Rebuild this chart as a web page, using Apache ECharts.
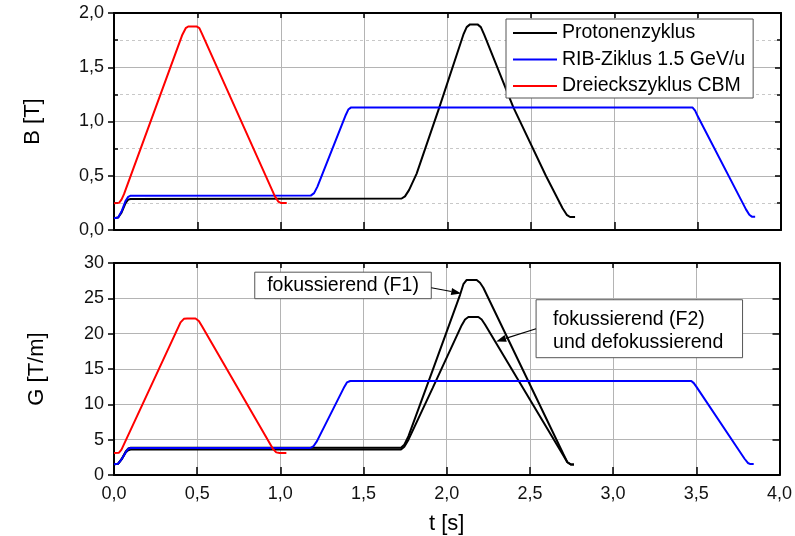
<!DOCTYPE html>
<html><head><meta charset="utf-8">
<script src="https://cdn.jsdelivr.net/npm/echarts@6/dist/echarts.min.js"></script>
<style>html,body{margin:0;padding:0;background:#fff}#c{width:795px;height:536px}</style>
</head><body><div id="c"></div>
<script>
// ---- data: [t (s), value] ----
const seriesNames = ['Protonenzyklus', 'RIB-Ziklus 1.5 GeV/u', 'Dreieckszyklus CBM'];

const B_proton = [[0,0.108],[0.025,0.115],[0.045,0.16],[0.07,0.25],[0.085,0.28],[0.1,0.286],[1.725,0.29],[1.745,0.31],[1.77,0.37],[1.815,0.52],[1.951,1.13],[2.095,1.80],[2.115,1.87],[2.135,1.895],[2.18,1.895],[2.2,1.87],[2.22,1.80],[2.395,1.13],[2.59,0.5],[2.69,0.2],[2.715,0.14],[2.735,0.12],[2.765,0.12]];
const B_rib = [[0,0.108],[0.025,0.115],[0.045,0.17],[0.07,0.27],[0.085,0.305],[0.1,0.316],[1.18,0.317],[1.2,0.34],[1.22,0.40],[1.39,1.06],[1.405,1.11],[1.42,1.128],[3.47,1.128],[3.485,1.10],[3.50,1.05],[3.79,0.19],[3.81,0.14],[3.825,0.123],[3.845,0.123]];
const B_cbm = [[0,0.246],[0.03,0.25],[0.045,0.28],[0.06,0.33],[0.41,1.80],[0.43,1.86],[0.445,1.876],[0.495,1.876],[0.512,1.86],[0.53,1.80],[0.965,0.31],[0.985,0.262],[1.0,0.25],[1.036,0.25]];

const G_f1 = [[0,1.52],[0.025,1.6],[0.045,2.2],[0.07,3.3],[0.085,3.75],[0.1,3.85],[1.725,3.85],[1.745,4.3],[1.77,5.5],[1.915,14.8],[2.08,25.5],[2.10,27.0],[2.12,27.6],[2.18,27.6],[2.2,27.2],[2.22,26.5],[2.70,3.0],[2.725,1.8],[2.745,1.5],[2.765,1.5]];
const G_f2 = [[0,1.52],[0.025,1.6],[0.045,2.2],[0.07,3.2],[0.085,3.5],[0.1,3.6],[1.725,3.6],[1.745,4.0],[1.77,5.0],[1.915,12.3],[2.09,21.2],[2.11,22.0],[2.13,22.35],[2.19,22.35],[2.21,22.0],[2.23,21.3],[2.70,2.8],[2.725,1.8],[2.745,1.5],[2.765,1.5]];
const G_rib = [[0,1.52],[0.025,1.6],[0.045,2.2],[0.07,3.2],[0.085,3.7],[0.1,3.82],[1.18,3.82],[1.2,4.1],[1.22,4.8],[1.385,12.5],[1.40,13.1],[1.42,13.3],[3.47,13.3],[3.485,13.0],[3.50,12.5],[3.79,2.3],[3.81,1.7],[3.825,1.55],[3.845,1.55]];
const G_cbm = [[0,3.13],[0.03,3.15],[0.045,3.6],[0.40,21.6],[0.42,22.1],[0.44,22.15],[0.49,22.15],[0.51,21.8],[0.53,21.0],[0.955,3.7],[0.975,3.2],[0.995,3.1],[1.036,3.1]];

const annF1Text = 'fokussierend (F1)';
const annF2Text = ['fokussierend (F2)', 'und defokussierend'];

// ---- styling ----
const FONT = 'Liberation Sans';
const colors = {p:'#000000', r:'#0000ff', c:'#ff0000'};
const comma = v => v.toFixed(1).replace('.', ',');
const axLine = {show:true, onZero:false, lineStyle:{color:'#000', width:2}};
const gridLine = {show:true, lineStyle:{color:'#b4b4b4', width:1}};

const chart = echarts.init(document.getElementById('c'), null, {renderer:'canvas'});

function xa(grid, pos, labels, tickLen, split, extra){
  return Object.assign({type:'value', gridIndex:grid, position:pos, min:0, max:4, interval:0.5,
    axisLine:axLine, axisTick:{show:true, inside:true, length:tickLen, lineStyle:{color:'#000', width:1.5}},
    axisLabel:{show:labels, formatter:comma, fontFamily:FONT, fontSize:18, color:'#111', margin:10},
    splitLine:split?gridLine:{show:false}}, extra||{});
}
const line = (name, data, color, xi, yi, z) => ({type:'line', name, data, xAxisIndex:xi, yAxisIndex:yi, symbol:'none',
  lineStyle:{color, width:2}, itemStyle:{color}, z, animation:false, silent:true, smooth:false});

chart.setOption({
  animation:false,
  backgroundColor:'#fff',
  grid:[{left:114, top:13, width:667, height:217},{left:114, top:263, width:667, height:216}],
  xAxis:[
    xa(0,'bottom',false,8,true),
    xa(0,'top',false,5,false),
    xa(1,'bottom',true,8,true,{name:'t [s]', nameLocation:'middle', nameGap:38,
      nameTextStyle:{fontFamily:FONT, fontSize:22, color:'#000'}}),
    xa(1,'top',false,5,false)
  ],
  yAxis:[
    {type:'value', gridIndex:0, position:'left', min:0, max:2, interval:0.5,
      axisLine:axLine, axisTick:{show:true, inside:false, length:6, lineStyle:{color:'#000', width:1.5}},
      axisLabel:{formatter:comma, fontFamily:FONT, fontSize:18, color:'#111', margin:10},
      splitLine:gridLine, minorTick:{show:false, splitNumber:2}, minorSplitLine:{show:true, lineStyle:{color:'#c8c8c8', width:1, type:[3,3]}},
      name:'B [T]', nameLocation:'middle', nameGap:70, nameRotate:90,
      nameTextStyle:{fontFamily:FONT, fontSize:22, color:'#000'}},
    {type:'value', gridIndex:0, position:'right', min:0, max:2, interval:0.5,
      axisLine:axLine, axisTick:{show:true, inside:true, length:6, lineStyle:{color:'#000', width:1.5}},
      minorTick:{show:true, splitNumber:2, length:4, lineStyle:{color:'#000', width:1.5}},
      axisLabel:{show:false}, splitLine:{show:false}},
    {type:'value', gridIndex:0, position:'left', min:0, max:2, interval:0.5,
      axisLine:{show:false}, axisTick:{show:false, inside:true},
      minorTick:{show:true, splitNumber:2, length:4, lineStyle:{color:'#000', width:1.5}},
      axisLabel:{show:false}, splitLine:{show:false}},
    {type:'value', gridIndex:1, position:'left', min:0, max:30, interval:5,
      axisLine:axLine, axisTick:{show:true, inside:false, length:6, lineStyle:{color:'#000', width:1.5}},
      axisLabel:{fontFamily:FONT, fontSize:18, color:'#111', margin:10},
      splitLine:gridLine,
      name:'G [T/m]', nameLocation:'middle', nameGap:66, nameRotate:90,
      nameTextStyle:{fontFamily:FONT, fontSize:22, color:'#000'}},
    {type:'value', gridIndex:1, position:'right', min:0, max:30, interval:5,
      axisLine:axLine, axisTick:{show:true, inside:true, length:7, lineStyle:{color:'#000', width:1.5}},
      axisLabel:{show:false}, splitLine:{show:false}}
  ],
  legend:{show:true, left:506, top:19, orient:'vertical', data:seriesNames,
    backgroundColor:'#fff', borderColor:'#555', borderWidth:1, borderRadius:0,
    padding:[4,8,2,7], itemGap:6.5, itemWidth:44, itemHeight:18, icon:'path://M0,9L44,9L44,11L0,11Z',
    textStyle:{fontFamily:FONT, fontSize:19.5, color:'#000'}},
  series:[
    line(seriesNames[0], B_proton, colors.p, 0, 0, 2),
    line(seriesNames[1], B_rib, colors.r, 0, 0, 3),
    line(seriesNames[2], B_cbm, colors.c, 0, 0, 4),
    line('F1', G_f1, colors.p, 2, 3, 2),
    line('F2', G_f2, colors.p, 2, 3, 2),
    line('RIB G', G_rib, colors.r, 2, 3, 3),
    line('CBM G', G_cbm, colors.c, 2, 3, 4)
  ]
});

// ---- annotations (positions in data coordinates of lower panel) ----
const P = (t, g) => chart.convertToPixel({xAxisIndex:2, yAxisIndex:3}, [t, g]);
function arrow(from, to){
  const a = P(from[0], from[1]), b = P(to[0], to[1]);
  const dx = b[0]-a[0], dy = b[1]-a[1], L = Math.hypot(dx, dy), ux = dx/L, uy = dy/L;
  const hl = 10, hw = 3.5;
  const base = [b[0]-ux*hl, b[1]-uy*hl];
  return [
    {type:'line', shape:{x1:a[0], y1:a[1], x2:base[0], y2:base[1]}, style:{stroke:'#000', lineWidth:1.2}, z:100},
    {type:'polygon', shape:{points:[b, [base[0]-uy*hw, base[1]+ux*hw], [base[0]+uy*hw, base[1]-ux*hw]]}, style:{fill:'#000'}, z:100}
  ];
}
function box(t0, g0, t1, g1){
  const a = P(t0, g0), b = P(t1, g1);
  return {type:'rect', shape:{x:a[0], y:a[1], width:b[0]-a[0], height:b[1]-a[1]}, style:{fill:'#fff', stroke:'#555', lineWidth:1}, z:99};
}
const annFont = '19.5px "Liberation Sans"';
const b1a = P(0.846, 28.7), b1b = P(1.907, 24.95);
const b2a = P(2.537, 24.8), b2b = P(3.778, 16.6);
chart.setOption({graphic:[
  box(0.846, 28.7, 1.907, 24.95),
  {type:'text', x:(b1a[0]+b1b[0])/2, y:(b1a[1]+b1b[1])/2, style:{text:annF1Text, font:annFont, fill:'#000', align:'center', verticalAlign:'middle'}, z:101},
  ...arrow([1.907, 26.5], [2.087, 25.7]),
  box(2.537, 24.8, 3.778, 16.6),
  {type:'text', x:b2a[0]+17, y:b2a[1]+20, style:{text:annF2Text[0], font:annFont, fill:'#000', align:'left', verticalAlign:'middle'}, z:101},
  {type:'text', x:b2a[0]+17, y:b2a[1]+43, style:{text:annF2Text[1], font:annFont, fill:'#000', align:'left', verticalAlign:'middle'}, z:101},
  ...arrow([2.537, 20.7], [2.297, 18.9])
]});
</script></body></html>
